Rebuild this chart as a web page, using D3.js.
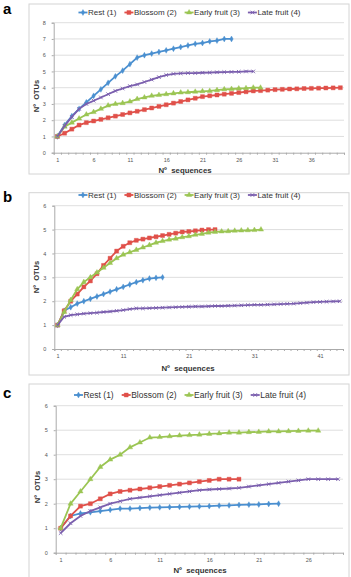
<!DOCTYPE html>
<html>
<head>
<meta charset="utf-8">
<script src="https://cdn.jsdelivr.net/npm/d3@7"></script>
<style>
  body { margin: 0; background: #fff; }
  text { font-family: "Liberation Sans", Arial, sans-serif; }
</style>
</head>
<body>
<div id="chart"></div>
<script>
const seriesNames = ["Rest (1)", "Blossom (2)", "Early fruit (3)", "Late fruit (4)"];
const colors = ["#4a8fd0", "#e0504a", "#9bc553", "#7b5fae"];

// panel a
const restA = [1, 1.7, 2.25, 2.7, 3.1, 3.5, 3.9, 4.3, 4.7, 5.05, 5.45, 5.85, 6.0, 6.1, 6.2, 6.3, 6.4, 6.5, 6.6, 6.7, 6.75, 6.85, 6.9, 7.0, 7.0];
const blossomA = [1, 1.2, 1.45, 1.7, 1.85, 1.95, 2.05, 2.15, 2.25, 2.35, 2.45, 2.55, 2.65, 2.75, 2.85, 2.95, 3.05, 3.15, 3.25, 3.35, 3.45, 3.5, 3.55, 3.6, 3.65, 3.7, 3.75, 3.8, 3.82, 3.85, 3.88, 3.9, 3.92, 3.93, 3.95, 3.96, 3.97, 3.98, 3.99, 4.0];
const earlyA = [1, 1.6, 1.85, 2.1, 2.35, 2.5, 2.7, 2.9, 3.0, 3.05, 3.15, 3.3, 3.4, 3.5, 3.55, 3.6, 3.65, 3.7, 3.72, 3.75, 3.78, 3.8, 3.85, 3.9, 3.92, 3.95, 3.97, 4.0, 4.0];
const lateA = [1, 1.65, 2.2, 2.7, 3.0, 3.2, 3.4, 3.6, 3.8, 3.95, 4.1, 4.2, 4.35, 4.5, 4.65, 4.78, 4.85, 4.88, 4.9, 4.9, 4.92, 4.93, 4.95, 4.96, 4.97, 4.98, 5.0, 5.0];
const ticksA = [1, 6, 11, 16, 21, 26, 31, 36];

// panel b
const restB = [1, 1.6, 1.75, 1.9, 2.0, 2.1, 2.2, 2.3, 2.4, 2.5, 2.6, 2.7, 2.8, 2.88, 2.95, 2.98, 3.0];
const blossomB = [1, 1.6, 2.0, 2.3, 2.6, 2.85, 3.15, 3.5, 3.8, 4.1, 4.3, 4.45, 4.55, 4.6, 4.65, 4.7, 4.75, 4.8, 4.85, 4.9, 4.92, 4.95, 4.98, 5.0, 5.0];
const earlyB = [1, 1.55, 2.05, 2.5, 2.8, 3.0, 3.2, 3.4, 3.6, 3.8, 3.95, 4.05, 4.15, 4.25, 4.35, 4.45, 4.52, 4.58, 4.62, 4.68, 4.72, 4.78, 4.82, 4.87, 4.9, 4.92, 4.93, 4.95, 4.96, 4.97, 4.98, 5.0];
const lateB = [1, 1.35, 1.42, 1.45, 1.48, 1.5, 1.52, 1.55, 1.57, 1.6, 1.63, 1.67, 1.7, 1.7, 1.71, 1.72, 1.73, 1.74, 1.75, 1.76, 1.77, 1.78, 1.78, 1.79, 1.8, 1.8, 1.81, 1.82, 1.83, 1.84, 1.85, 1.85, 1.86, 1.87, 1.88, 1.89, 1.9, 1.92, 1.94, 1.96, 1.97, 1.98, 1.99, 2.0];
const ticksB = [1, 11, 21, 31, 41];

// panel c
const restC = [1, 1.5, 1.6, 1.65, 1.7, 1.75, 1.8, 1.8, 1.82, 1.84, 1.85, 1.86, 1.87, 1.88, 1.89, 1.9, 1.92, 1.93, 1.95, 1.96, 1.97, 1.99, 2.0];
const blossomC = [1, 1.5, 1.9, 2.0, 2.2, 2.4, 2.5, 2.55, 2.6, 2.65, 2.7, 2.75, 2.8, 2.85, 2.9, 2.95, 3.0, 3.0, 3.0];
const earlyC = [1, 2.0, 2.5, 3.0, 3.5, 3.8, 4.0, 4.3, 4.5, 4.7, 4.72, 4.75, 4.78, 4.8, 4.82, 4.85, 4.87, 4.9, 4.9, 4.92, 4.93, 4.95, 4.95, 4.96, 4.97, 4.98, 4.98];
const lateC = [0.8, 1.2, 1.5, 1.7, 1.85, 2.0, 2.1, 2.2, 2.25, 2.3, 2.35, 2.4, 2.45, 2.5, 2.55, 2.58, 2.6, 2.62, 2.65, 2.7, 2.75, 2.8, 2.85, 2.9, 2.95, 3.0, 3.0, 3.0, 3.0];
const ticksC = [1, 6, 11, 16, 21, 26];

const symbols = [
  { type: d3.symbolDiamond, size: 10, fill: true },
  { type: d3.symbolSquare, size: 16, fill: true },
  { type: d3.symbolTriangle, size: 12, fill: true },
  { type: d3.symbolTimes, size: 10, fill: false }
];

const svg = d3.select("#chart")
  .append("svg")
  .attr("width", 351)
  .attr("height", 577);

const drawPanel = p => {
  const g = svg.append("g");

  g.append("rect")
    .attr("x", p.box[0]).attr("y", p.box[1])
    .attr("width", p.box[2]).attr("height", p.box[3])
    .attr("fill", "#fff")
    .attr("stroke", "#d4d4d4");

  g.append("text")
    .attr("x", 3).attr("y", p.letterY)
    .attr("font-size", 15).attr("font-weight", "bold")
    .text(p.letter);

  const x = d3.scaleLinear().domain([0.5, p.nCats + 0.5]).range([p.left, p.right]);
  const y = d3.scaleLinear().domain([0, p.yMax]).range([p.bottom, p.top]);

  // horizontal gridlines
  g.append("g")
    .selectAll("line")
    .data(d3.range(1, p.yMax + 1))
    .join("line")
    .attr("x1", p.left).attr("x2", p.right)
    .attr("y1", d => y(d)).attr("y2", d => y(d))
    .attr("stroke", "#d6d6d6")
    .attr("stroke-width", 0.8);

  const yAxis = g.append("g")
    .attr("transform", `translate(${p.left},0)`)
    .call(d3.axisLeft(y).ticks(p.yMax).tickSize(2).tickPadding(p.yPad));
  yAxis.select(".domain").attr("stroke", "#aaa");
  yAxis.selectAll(".tick line").attr("stroke", "#aaa");
  yAxis.selectAll("text").attr("font-size", 5.5).attr("fill", "#555").attr("font-family", null);

  // minor ticks at category boundaries
  const xMinor = g.append("g")
    .attr("transform", `translate(0,${p.bottom})`)
    .call(d3.axisBottom(x).tickValues(d3.range(0.5, p.nCats + 1, 1)).tickSize(2).tickFormat(""));
  xMinor.select(".domain").attr("stroke", "#aaa");
  xMinor.selectAll(".tick line").attr("stroke", "#aaa");

  const xAxis = g.append("g")
    .attr("transform", `translate(0,${p.bottom})`)
    .call(d3.axisBottom(x).tickValues(p.ticks).tickSize(0).tickPadding(p.xPad));
  xAxis.select(".domain").remove();
  xAxis.selectAll("text").attr("font-size", 5.5).attr("fill", "#555").attr("font-family", null);

  // axis titles
  g.append("text")
    .attr("x", p.xTitleX).attr("y", p.xTitleY)
    .attr("text-anchor", "middle")
    .attr("font-size", 7.8).attr("font-weight", "bold").attr("fill", "#333")
    .attr("xml:space", "preserve")
    .text("Nº  sequences");

  g.append("text")
    .attr("transform", `translate(${p.yTitleX},${p.yTitleY}) rotate(-90)`)
    .attr("text-anchor", "middle")
    .attr("font-size", 7.5).attr("font-weight", "bold").attr("fill", "#333")
    .attr("xml:space", "preserve")
    .text("Nº  OTUs");

  const line = d3.line().x((d, i) => x(i + 1)).y(d => y(d));

  p.series.forEach((s, k) => {
    g.append("path")
      .datum(s)
      .attr("fill", "none")
      .attr("stroke", colors[k])
      .attr("stroke-width", 1.8)
      .attr("d", line);
    const sym = symbols[k];
    g.append("g")
      .selectAll("path")
      .data(s)
      .join("path")
      .attr("transform", (d, i) => `translate(${x(i + 1)},${y(d)})`)
      .attr("d", d3.symbol().type(sym.type).size(sym.size))
      .attr("fill", sym.fill ? colors[k] : "none")
      .attr("stroke", colors[k])
      .attr("stroke-width", sym.fill ? 0.4 : 0.9);
  });

  // legend, laid out left to right then centred on the box
  const leg = g.append("g");
  let cx = 0;
  seriesNames.forEach((name, k) => {
    const item = leg.append("g").attr("transform", `translate(${cx},0)`);
    item.append("line")
      .attr("x1", 0).attr("x2", 9).attr("y1", 0).attr("y2", 0)
      .attr("stroke", colors[k]).attr("stroke-width", 1.8);
    const sym = symbols[k];
    item.append("path")
      .attr("transform", "translate(4.5,0)")
      .attr("d", d3.symbol().type(sym.type).size(sym.size))
      .attr("fill", sym.fill ? colors[k] : "none")
      .attr("stroke", colors[k])
      .attr("stroke-width", sym.fill ? 0.4 : 0.9);
    const t = item.append("text")
      .attr("x", 9.5).attr("y", 2.9)
      .attr("font-size", p.legFont).attr("fill", "#333")
      .text(name);
    cx += 9.5 + t.node().getComputedTextLength() + p.legGap;
  });
  const legW = cx - p.legGap;
  leg.attr("transform", `translate(${p.legCenter - legW / 2},${p.legY})`);
};

const panels = [
  {
    letter: "a", letterY: 14,
    box: [29, 4, 320, 170],
    left: 53.7, right: 344, top: 22.7, bottom: 152.7,
    yMax: 8, nCats: 40, ticks: ticksA,
    series: [restA, blossomA, earlyA, lateA],
    yPad: 6, xPad: 5,
    xTitleX: 185, xTitleY: 173, yTitleX: 39, yTitleY: 96,
    legY: 12.5, legCenter: 189.5, legFont: 8, legGap: 8
  },
  {
    letter: "b", letterY: 202,
    box: [29, 192.7, 320, 182.3],
    left: 54.3, right: 343, top: 205.7, bottom: 349,
    yMax: 6, nCats: 44, ticks: ticksB,
    series: [restB, blossomB, earlyB, lateB],
    yPad: 6, xPad: 5,
    xTitleX: 188, xTitleY: 370.5, yTitleX: 39, yTitleY: 277,
    legY: 195, legCenter: 189.5, legFont: 8, legGap: 8
  },
  {
    letter: "c", letterY: 398,
    box: [29, 384, 320, 200],
    left: 55.7, right: 343, top: 405.7, bottom: 552.7,
    yMax: 6, nCats: 29, ticks: ticksC,
    series: [restC, blossomC, earlyC, lateC],
    yPad: 6, xPad: 5,
    xTitleX: 200, xTitleY: 573, yTitleX: 40, yTitleY: 487,
    legY: 395, legCenter: 190, legFont: 8.5, legGap: 8
  }
];

panels.forEach(drawPanel);
</script>
</body>
</html>
